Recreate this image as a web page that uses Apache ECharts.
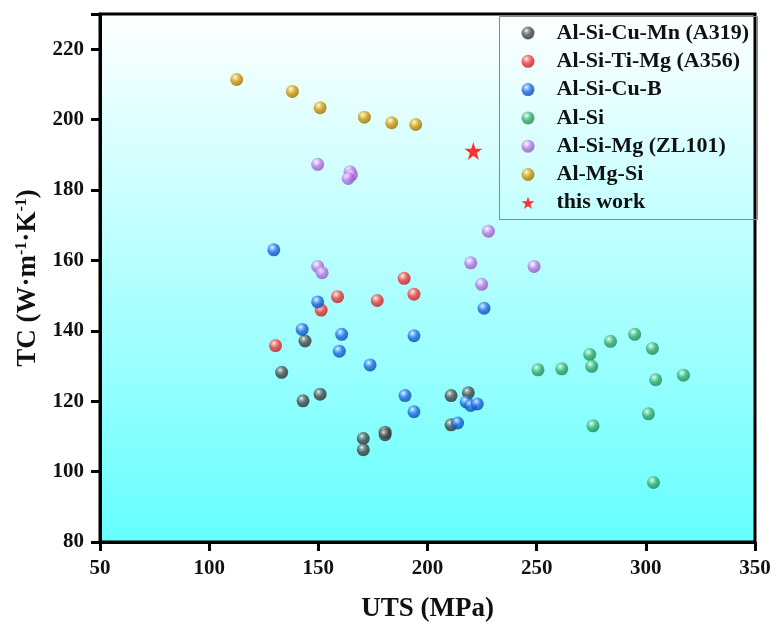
<!DOCTYPE html>
<html><head><meta charset="utf-8">
<script src="https://cdn.jsdelivr.net/npm/echarts@6/dist/echarts.min.js"></script>
<style>html,body{margin:0;padding:0;background:#fff}#c{width:774px;height:628px}</style>
</head><body><div id="c"></div>
<script>
const seriesNames = ['Al-Si-Cu-Mn (A319)','Al-Si-Ti-Mg (A356)','Al-Si-Cu-B','Al-Si','Al-Si-Mg (ZL101)','Al-Mg-Si','this work'];
const a319 = [[133.2,128.2],[143.9,137.1],[143.0,120.1],[150.8,122.0],[170.6,109.4],[170.6,106.2],[180.6,111.2],[180.6,110.5],[210.8,121.6],[218.7,122.4],[210.8,113.3]];
const a356 = [[130.4,135.8],[151.3,145.9],[158.8,149.7],[177.0,148.6],[189.3,154.9],[193.8,150.4]];
const alSiCuB = [[129.6,163.0],[149.7,148.2],[142.6,140.4],[160.7,139.0],[159.6,134.2],[173.7,130.3],[193.8,138.6],[225.9,146.4],[189.7,121.6],[193.8,117.0],[217.7,119.8],[219.8,118.8],[222.8,119.2],[213.8,113.8]];
const alSi = [[250.6,128.9],[261.5,129.2],[274.3,133.3],[275.2,129.9],[283.8,137.0],[294.9,139.0],[303.0,135.0],[304.5,126.1],[317.2,127.4],[301.2,116.4],[275.8,113.0],[303.5,96.9]];
const zl101 = [[149.7,187.3],[164.5,185.2],[165.2,184.3],[163.7,183.3],[227.9,168.3],[219.8,159.3],[248.8,158.3],[224.8,153.2],[149.7,158.3],[151.7,156.5]];
const alMgSi = [[112.6,211.4],[138.1,208.0],[150.8,203.4],[171.1,200.7],[183.6,199.1],[194.6,198.6]];
const thisWork = [[221.0,191.1]];
const xTicks = [50,100,150,200,250,300,350];
const yTicks = [80,100,120,140,160,180,200,220];

const baseColors = [['#9a9a9a','#474747','#262626'],['#ff9a9a','#ee3535','#b01818'],['#8ab8ff','#1a66e0','#0a3ea0'],['#9ae0b8','#35aa6a','#1a7a45'],['#e8c8ff','#b477e0','#8a4ab8'],['#f0d070','#cc9500','#8a6400']];
function sphere(c){
  return {type:'radial',x:0.38,y:0.32,r:0.75,colorStops:[{offset:0,color:'#ffffff'},{offset:0.18,color:c[0]},{offset:0.5,color:c[1]},{offset:1,color:c[2]}]};
}
const datas = [a319,a356,alSiCuB,alSi,zl101,alMgSi];
const star = 'path://M50,0 L61.2,34.5 L97.6,34.5 L68.2,55.9 L79.4,90.5 L50,69.1 L20.6,90.5 L31.8,55.9 L2.4,34.5 L38.8,34.5 Z';
const series = datas.map((d,i)=>({
  name: seriesNames[i], type:'scatter', data:d, symbol:'circle', symbolSize:13,
  itemStyle:{color:sphere(baseColors[i])}
}));
series.push({name:seriesNames[6], type:'scatter', data:thisWork, symbol:star, symbolSize:18, itemStyle:{color:'#ff0000'}});

const font = '"Liberation Serif","Times New Roman",serif';
const chart = echarts.init(document.getElementById('c'));
chart.setOption({
  animation:false,
  grid:{left:100,right:19,top:14,bottom:86,show:true,borderColor:'#000',borderWidth:3,
    backgroundColor:{type:'linear',x:0,y:0,x2:0,y2:1,colorStops:[{offset:0,color:'#ffffff'},{offset:1,color:'#66ffff'}]}},
  graphic:[{type:'rect',left:497,top:14,shape:{width:258,height:203},style:{fill:'none',stroke:'#888',lineWidth:1},z:100}],
  legend:{left:521.5,top:22,orient:'vertical',itemWidth:13,itemHeight:13,itemGap:6.3,padding:0,
    textStyle:{fontFamily:font,fontWeight:'bold',fontSize:22,lineHeight:22,color:'#111',padding:[0,0,0,17]},
    data:seriesNames.map((n,i)=>({name:n, icon: i===6?star:'circle'}))},
  xAxis:{type:'value',min:50,max:350,interval:50,
    name:'UTS (MPa)',nameLocation:'middle',nameGap:54,
    nameTextStyle:{fontFamily:font,fontWeight:'bold',fontSize:27,color:'#111'},
    axisLine:{show:true,lineStyle:{color:'#000',width:3}},
    axisTick:{show:true,inside:false,length:9,lineStyle:{color:'#000',width:3}},
    axisLabel:{fontFamily:font,fontWeight:'bold',fontSize:21,color:'#111',margin:16,
      formatter:v=>xTicks.includes(v)?String(v):''},
    splitLine:{show:false}},
  yAxis:{type:'value',min:80,max:230,interval:20,
    name:'{m|TC (W·m}{s|-1}{m|·K}{s|-1}{m|)}',nameLocation:'middle',nameGap:58,
    nameTextStyle:{rich:{m:{fontFamily:font,fontWeight:'bold',fontSize:27,color:'#111'},
      s:{fontFamily:font,fontWeight:'bold',fontSize:16,color:'#111',padding:[0,0,12,0]}}},
    axisLine:{show:true,lineStyle:{color:'#000',width:3}},
    axisTick:{show:true,inside:false,length:9,lineStyle:{color:'#000',width:3}},
    axisLabel:{fontFamily:font,fontWeight:'bold',fontSize:21,color:'#111',margin:16,
      formatter:v=>yTicks.includes(v)?String(v):''},
    splitLine:{show:false}},
  series:series
});
</script></body></html>
